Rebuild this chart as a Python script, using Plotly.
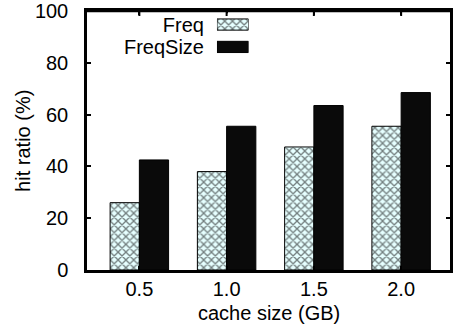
import plotly.graph_objects as go

categories = [0.5, 1.0, 1.5, 2.0]
tick_labels = ["0.5", "1.0", "1.5", "2.0"]
series_names = ["Freq", "FreqSize"]
freq = [26, 38, 47.5, 55.5]
freq_size = [42.5, 55.5, 63.5, 68.5]
y_ticks = [0, 20, 40, 60, 80, 100]

FONT = "Liberation Sans, Arial, sans-serif"
HATCH_BG = "#e6ffff"
SOLID = "#0a0a0a"
HATCH = dict(shape="x", size=5.5, solidity=0.42, fgcolor="black", bgcolor=HATCH_BG)
X_RANGE = [0.2, 2.28]
Y_RANGE = [0, 100]

fig = go.Figure()
fig.add_trace(go.Bar(
    x=categories, y=freq, name=series_names[0], showlegend=False,
    marker=dict(color=HATCH_BG, line=dict(color="black", width=1), pattern=HATCH),
))
fig.add_trace(go.Bar(
    x=categories, y=freq_size, name=series_names[1], showlegend=False,
    marker=dict(color=SOLID, line=dict(color="black", width=1)),
))

# legend drawn as a tiny horizontal bar chart on its own axes (text on left, swatch on right)
fig.add_trace(go.Bar(
    y=[series_names[0]], x=[1], orientation="h", width=0.5, offset=-0.25,
    xaxis="x2", yaxis="y2", showlegend=False, hoverinfo="skip",
    marker=dict(color=HATCH_BG, line=dict(color="black", width=1), pattern=HATCH),
))
fig.add_trace(go.Bar(
    y=[series_names[1]], x=[1], orientation="h", width=0.5, offset=-0.25,
    xaxis="x2", yaxis="y2", showlegend=False, hoverinfo="skip",
    marker=dict(color=SOLID, line=dict(color="black", width=1)),
))

axis_common = dict(showgrid=False, zeroline=False, ticks="inside", ticklen=4,
                   tickwidth=2, tickcolor="black", linecolor="black", linewidth=2.5)

# backup frame edge along the top plus mirrored top tick marks
top_edge = [dict(type="line", xref="paper", yref="paper", x0=0, x1=1.01, y0=1, y1=1,
                 line=dict(color="black", width=2.5), layer="above")]
top_ticks = [dict(type="line", xref="x", yref="paper", x0=c, x1=c, y0=1, y1=1 - 5 / 260,
                  line=dict(color="black", width=2), layer="above") for c in categories]

fig.update_layout(
    width=453, height=330,
    margin=dict(l=87, r=0, t=10, b=60),
    paper_bgcolor="white", plot_bgcolor="white",
    font=dict(family=FONT, size=20, color="black"),
    barmode="group", bargap=0.33, bargroupgap=0,
    xaxis=dict(
        range=X_RANGE, tickmode="array", tickvals=categories, ticktext=tick_labels,
        showline=True, mirror="ticks", ticklabelstandoff=-1, **axis_common,
    ),
    yaxis=dict(
        range=Y_RANGE, tickmode="array", tickvals=y_ticks,
        showline=True, mirror="ticks", ticklabelstandoff=12,
        ticklabeloverflow="allow", **axis_common,
    ),
    xaxis2=dict(domain=[0.358, 0.445], range=[0, 1], anchor="y2", visible=False,
                fixedrange=True),
    yaxis2=dict(domain=[0.818, 0.991], anchor="x2", autorange="reversed",
                type="category", categoryorder="array", categoryarray=series_names,
                tickmode="array", tickvals=series_names,
                showline=False, showgrid=False, zeroline=False, ticks="",
                ticklabelstandoff=12, fixedrange=True),
    shapes=top_edge + top_ticks,
    annotations=[
        dict(text="cache size (GB)", xref="paper", yref="paper", x=0.5, y=-0.165,
             xanchor="center", yanchor="middle", showarrow=False, font=dict(size=20)),
        dict(text="hit ratio (%)", xref="paper", yref="paper", x=-0.178, y=0.5,
             xanchor="center", yanchor="middle", textangle=-90, showarrow=False,
             font=dict(size=20)),
    ],
)

fig.write_html("out.html")
